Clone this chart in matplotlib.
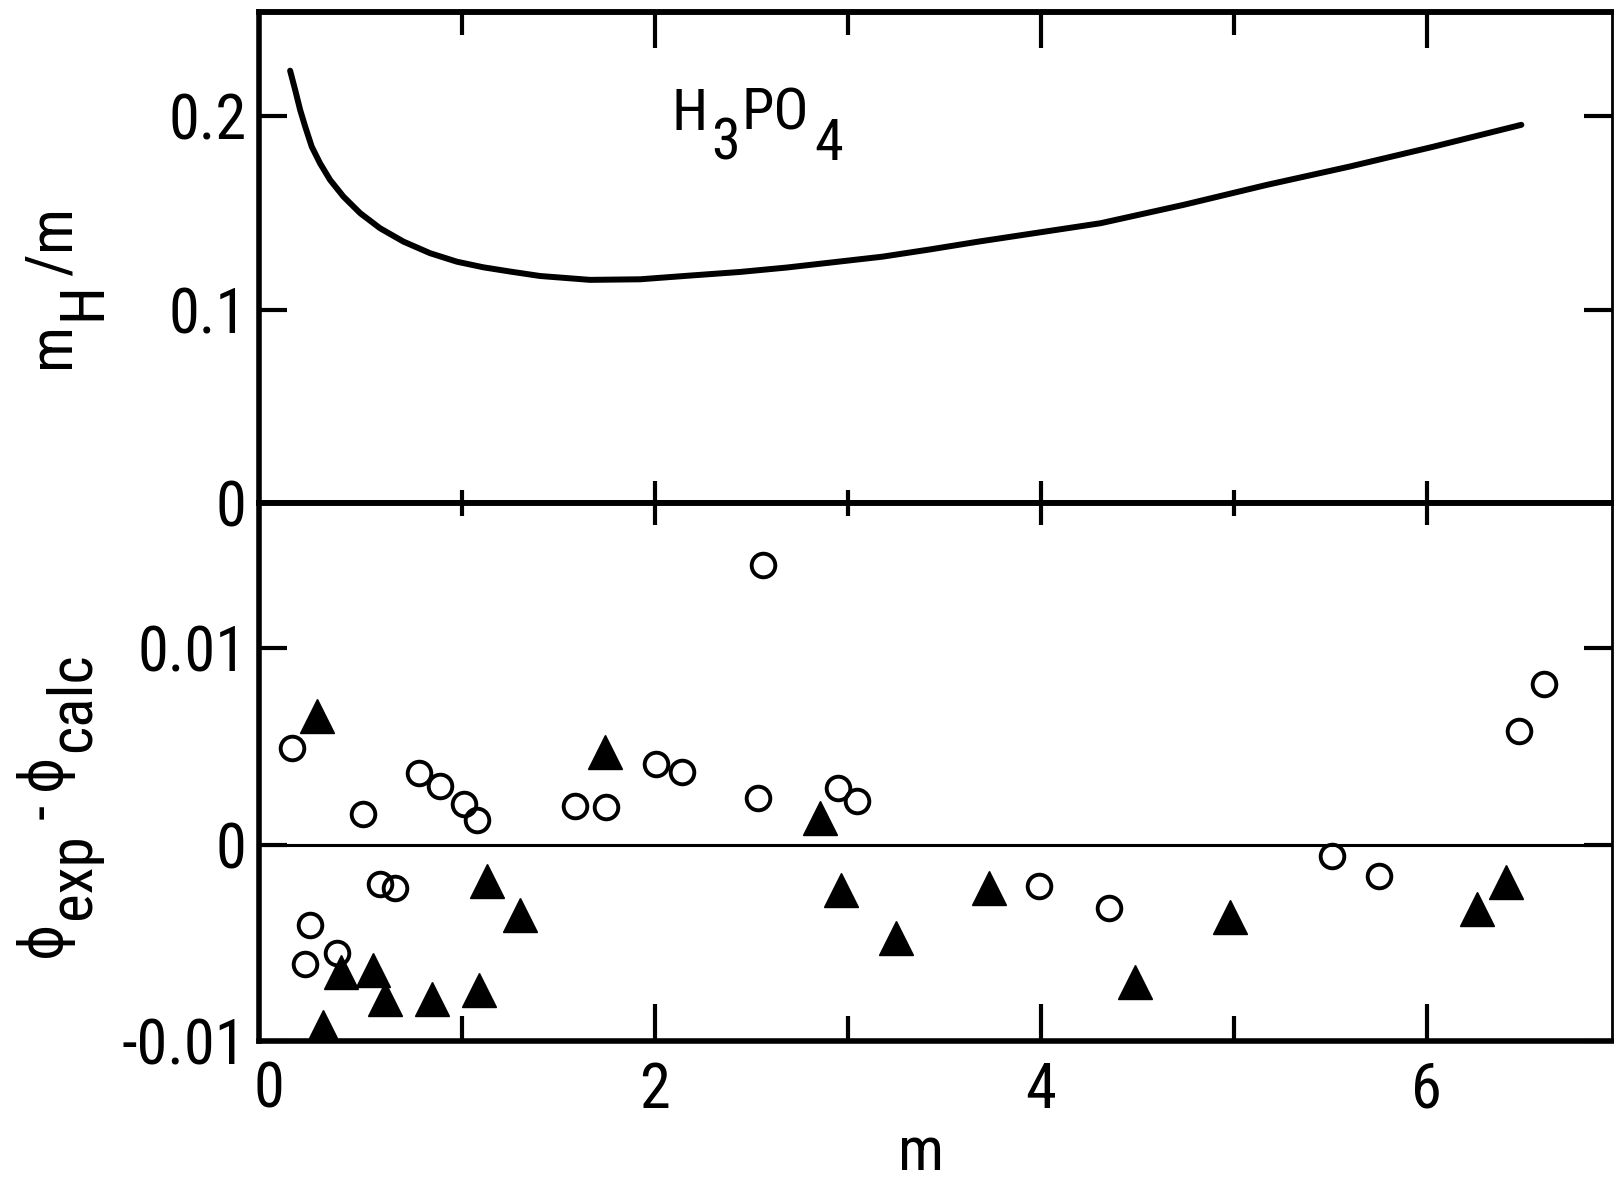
import matplotlib
matplotlib.use("Agg")
import matplotlib.pyplot as plt
from matplotlib.transforms import IdentityTransform

FONT = ["Roboto Condensed", "Liberation Sans Narrow", "DejaVu Sans"]
plt.rcParams["font.family"] = FONT
plt.rcParams["font.stretch"] = "condensed"
plt.rcParams["font.size"] = 45
plt.rcParams["text.color"] = "black"

# ---------------- data ----------------
curve_m = [0.111, 0.137, 0.163, 0.189, 0.223, 0.266, 0.318, 0.387, 0.474,
           0.577, 0.698, 0.836, 0.975, 1.112, 1.251, 1.406, 1.665, 1.924,
           2.18, 2.443, 2.686, 3.18, 3.43, 3.678, 4.31, 4.74, 5.17, 5.60,
           6.035, 6.49]
curve_ratio = [0.2236, 0.2137, 0.2033, 0.1947, 0.1843, 0.1757, 0.1671, 0.1585,
               0.1499, 0.1421, 0.1352, 0.1292, 0.1248, 0.1219, 0.1197, 0.1174,
               0.1154, 0.1157, 0.1176, 0.1195, 0.1218, 0.1274, 0.1312, 0.1352,
               0.1447, 0.1542, 0.1645, 0.1740, 0.1843, 0.1956]

circ_m = [0.12, 0.214, 0.19, 0.353, 0.49, 0.575, 0.654, 0.78, 0.89, 1.01, 1.08,
          1.586, 1.748, 2.006, 2.14, 2.56, 2.535, 2.95, 3.05, 3.99, 4.355, 5.51,
          5.75, 6.476, 6.605]
circ_dphi = [0.0049, -0.0041, -0.0061, -0.0055, 0.00157, -0.0020, -0.0022,
             0.00363, 0.0030, 0.00208, 0.00127, 0.00199, 0.00193, 0.00409,
             0.00368, 0.01423, 0.00239, 0.0029, 0.0022, -0.0021, -0.0032,
             -0.00056, -0.0016, 0.0058, 0.0082]

tri_m = [0.249, 0.28, 0.377, 0.54, 0.605, 0.848, 1.09, 1.13, 1.30, 1.74, 2.856,
         2.965, 3.25, 3.73, 4.49, 4.98, 6.26, 6.41]
tri_dphi = [0.00655, -0.0093, -0.0065, -0.0064, -0.00785, -0.00785, -0.0074,
            -0.00184, -0.00357, 0.00473, 0.00135, -0.00229, -0.00476, -0.0022,
            -0.0070, -0.00366, -0.0033, -0.0019]

x_major = [0, 2, 4, 6]
x_major_labels = ["0", "2", "4", "6"]
x_minor = [1, 3, 5]
top_yticks = [0, 0.1, 0.2]
top_ylabels = ["0", "0.1", "0.2"]
bot_yticks = [-0.01, 0, 0.01]
bot_ylabels = ["-0.01", "0", "0.01"]

# ---------------- figure ----------------
fig = plt.figure(figsize=(16.14, 11.79), dpi=100)
ax1 = fig.add_axes([0.1605, 0.5734, 0.8383, 0.4160])
ax2 = fig.add_axes([0.1605, 0.1170, 0.8383, 0.4564])

XLIM = (-0.05, 6.96)

ax1.plot(curve_m, curve_ratio, color="black", lw=4.3, solid_capstyle="round",
         solid_joinstyle="round")
ax1.set_xlim(*XLIM)
ax1.set_ylim(0, 0.2537)

ax2.axhline(0, color="black", lw=2.2, zorder=1)
ax2.plot(circ_m, circ_dphi, "o", mfc="none", mec="black", ms=17, mew=2.8,
         zorder=3)
ax2.plot(tri_m, tri_dphi, "^", color="black", ms=24, mew=1, zorder=4)
ax2.set_xlim(*XLIM)
ax2.set_ylim(-0.0100, 0.0174)

for ax in (ax1, ax2):
    for side in ("left", "top", "bottom"):
        ax.spines[side].set_linewidth(4)
    ax.spines["right"].set_linewidth(2)

# top panel ticks (no tick line drawn at m = 0, it sits on the spine)
ax1.set_xticks(x_major[1:])
ax1.set_xticks(x_minor, minor=True)
ax1.tick_params(axis="x", which="both", direction="in", bottom=True, top=False,
                labelbottom=False, width=3)
ax1.tick_params(axis="x", which="major", length=16)
ax1.tick_params(axis="x", which="minor", length=9.5)
ax1.set_yticks(top_yticks)
ax1.set_yticklabels(top_ylabels)
ax1.tick_params(axis="y", which="both", direction="in", left=True, right=True,
                length=20, width=3, pad=9)

sec1 = ax1.secondary_xaxis("top")
sec1.set_xticks(x_major[1:])
sec1.set_xticks(x_minor, minor=True)
sec1.tick_params(axis="x", which="both", direction="in", labeltop=False, width=3)
sec1.tick_params(axis="x", which="major", length=26)
sec1.tick_params(axis="x", which="minor", length=16.5)
sec1.spines["top"].set_linewidth(4)

# bottom panel ticks
ax2.set_xticks(x_major)
ax2.set_xticklabels(x_major_labels)
ax2.set_xticks(x_minor, minor=True)
ax2.tick_params(axis="x", which="both", direction="in", bottom=True, top=False,
                width=3, pad=14)
ax2.tick_params(axis="x", which="major", length=27)
ax2.tick_params(axis="x", which="minor", length=18)
ax2.xaxis.get_major_ticks()[0].tick1line.set_visible(False)
ax2.set_yticks(bot_yticks)
ax2.set_yticklabels(bot_ylabels)
ax2.tick_params(axis="y", which="both", direction="in", left=True, right=True,
                length=20, width=3, pad=9)

sec2 = ax2.secondary_xaxis("top")
sec2.set_xticks(x_major[1:])
sec2.set_xticks(x_minor, minor=True)
sec2.tick_params(axis="x", which="both", direction="in", labeltop=False, width=3)
sec2.tick_params(axis="x", which="major", length=16)
sec2.tick_params(axis="x", which="minor", length=9.5)
sec2.spines["top"].set_linewidth(4)


# ---------------- labels with full-size subscripts ----------------
def chain_text(x0, y0, pieces, size, rotation=0):
    """pieces: (text, subscript shift in px, gap before in px); coords in px."""
    renderer = fig.canvas.get_renderer()
    pos = 0.0
    for s, shift, gap in pieces:
        pos += gap
        if rotation == 90:
            x, y = x0 + shift, y0 + pos
        else:
            x, y = x0 + pos, y0 - shift
        t = fig.text(x, y, s, fontsize=size, family=FONT, fontstretch="condensed",
                     rotation=rotation, rotation_mode="anchor", ha="left",
                     va="baseline", transform=IdentityTransform())
        bb = t.get_window_extent(renderer)
        pos += bb.height if rotation == 90 else bb.width


H = 1179
chain_text(672, H - 130, [("H", 0, 0), ("3", 30, 3), ("PO", 0, 2), ("4", 30, 5)],
           42)
chain_text(69, H - 368, [("m", 0, 0), ("H", 31, 2), ("/", 0, 6), ("m", 0, 4)],
           44, rotation=90)
chain_text(60, H - 957, [("\u03d5", 0, 0), ("exp", 30, 2), ("-", 0, 14),
                         ("\u03d5", 0, 14), ("calc", 30, 2)],
           44, rotation=90)
fig.text(921 / 1614, 9 / 1179, "m", fontsize=44, ha="center", va="baseline")

fig.savefig("out.png", dpi=100)
